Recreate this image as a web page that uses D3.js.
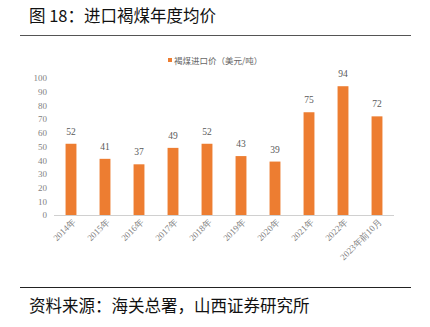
<!DOCTYPE html>
<html><head><meta charset="utf-8">
<script src="https://cdn.jsdelivr.net/npm/d3@7"></script>
<style>body{margin:0;background:#fff}svg{display:block}</style>
</head><body>
<svg id="c" width="430" height="327"></svg>
<script>
const categories = ["2014年","2015年","2016年","2017年","2018年","2019年","2020年","2021年","2022年","2023年前10月"];
const values = [52,41,37,49,52,43,39,75,94,72];
const yTicks = [0,10,20,30,40,50,60,70,80,90,100];
const seriesName = "褐煤进口价（美元/吨）";
const title = "图 18：进口褐煤年度均价";
const source = "资料来源：海关总署，山西证券研究所";

const svg = d3.select("#c");
const cjk = "'Noto Sans CJK SC','Noto Sans',sans-serif";
const serif = "'Liberation Serif','DejaVu Serif',serif";
const orange = "#ED7D31";
const gray = "#7f7f7f";

svg.append("text").attr("x",29).attr("y",22).attr("font-family",cjk).attr("font-size",16.5).attr("fill","#111").text(title);
svg.append("line").attr("x1",20).attr("x2",411).attr("y1",35.5).attr("y2",35.5).attr("stroke","#555").attr("stroke-width",1);
svg.append("line").attr("x1",20).attr("x2",411).attr("y1",287.5).attr("y2",287.5).attr("stroke","#222").attr("stroke-width",1);
svg.append("text").attr("x",29).attr("y",312).attr("font-family",cjk).attr("font-size",16.5).attr("fill","#111").text(source);

const x = d3.scaleBand().domain(categories).range([54,394]).paddingInner(0.68).paddingOuter(0.34);
const y = d3.scaleLinear().domain([0,100]).range([215,78]);

// legend
svg.append("rect").attr("x",168).attr("y",58).attr("width",4).attr("height",4).attr("fill",orange);
svg.append("text").attr("x",174).attr("y",63.5).attr("font-family",cjk).attr("font-size",8.5).attr("fill","#666").text(seriesName);

// y axis labels
const yAxis = d3.axisLeft(y).tickValues(yTicks).tickSize(0).tickPadding(0);
const ya = svg.append("g").attr("transform","translate(47,0)").call(yAxis);
ya.select(".domain").remove();
ya.selectAll("text").attr("font-family",serif).attr("font-size",9).attr("fill",gray);

// bars
svg.append("g").selectAll("rect").data(values).join("rect")
  .attr("x",(d,i)=>x(categories[i])).attr("width",x.bandwidth())
  .attr("y",d=>y(d)).attr("height",d=>y(0)-y(d)).attr("fill",orange);

// value labels
svg.append("g").selectAll("text").data(values).join("text")
  .attr("x",(d,i)=>x(categories[i])+x.bandwidth()/2).attr("y",d=>y(d)-9)
  .attr("text-anchor","middle").attr("font-family",serif).attr("font-size",9.5).attr("fill","#595959").text(d=>d);

// x axis
const xAxis = d3.axisBottom(x).tickSize(0).tickPadding(0);
const xa = svg.append("g").attr("transform","translate(0,215.5)").call(xAxis);
xa.select(".domain").attr("stroke","#d0d0d0").attr("stroke-width",1).attr("d","M54,0H394");
xa.selectAll("text").attr("font-family",serif).attr("font-size",9).attr("fill",gray)
  .attr("text-anchor","end").attr("dy",null).attr("y",0)
  .attr("transform","translate(5,7) rotate(-45)");
</script>
</body></html>
